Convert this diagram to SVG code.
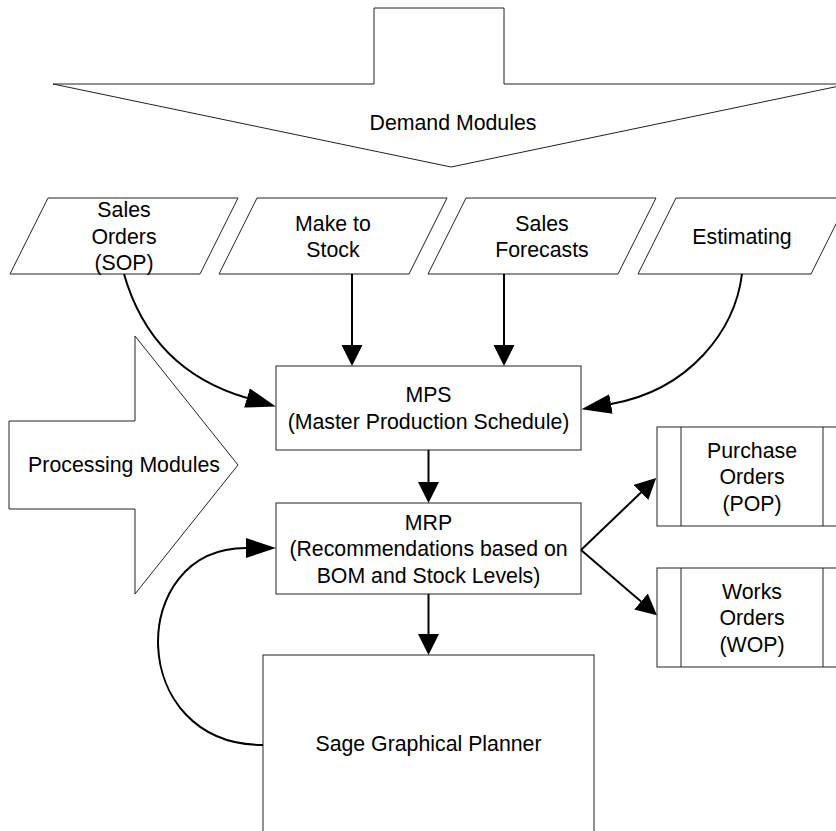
<svg xmlns="http://www.w3.org/2000/svg" width="836" height="831" viewBox="0 0 836 831">
  <style>
    .shape { fill: #ffffff; stroke: #222222; stroke-width: 1; }
    .conn { fill: none; stroke: #000000; stroke-width: 2; }
    .lbl { font-family: "Liberation Sans", Arial, Helvetica, sans-serif; font-size: 21.3px; fill: #000000; text-anchor: middle; }
  </style>
  <defs>
    <marker id="head" markerUnits="userSpaceOnUse" markerWidth="22" markerHeight="22" refX="0" refY="10.5" orient="auto">
      <path d="M0,0 L21,10.5 L0,21 Z" fill="#000000"/>
    </marker>
    <marker id="headLong" markerUnits="userSpaceOnUse" markerWidth="31" markerHeight="21" refX="0" refY="10" orient="auto">
      <path d="M0,0 L30,10 L0,20 Z" fill="#000000"/>
    </marker>
  </defs>
  <rect x="0" y="0" width="836" height="831" fill="#ffffff"/>

  <!-- big block arrows -->
  <g id="demand-modules">
    <path class="shape" d="M53,84 L374,84 L374,8 L504,8 L504,84 L849,84 L451,167 Z"/>
    <text class="lbl" x="453" y="130">Demand Modules</text>
  </g>
  <g id="processing-modules">
    <path class="shape" d="M9,421 L135,421 L135,336 L238,465 L135,594 L135,509 L9,509 Z"/>
    <text class="lbl" x="124" y="472">Processing Modules</text>
  </g>

  <!-- demand inputs -->
  <g id="sales-orders">
    <path class="shape" d="M48,198 L238,198 L200,274 L10,274 Z"/>
    <text class="lbl" x="124" y="217">Sales</text>
    <text class="lbl" x="124" y="243.5">Orders</text>
    <text class="lbl" x="124" y="270">(SOP)</text>
  </g>
  <g id="make-to-stock">
    <path class="shape" d="M257,198 L447,198 L409,274 L219,274 Z"/>
    <text class="lbl" x="333" y="230.5">Make to</text>
    <text class="lbl" x="333" y="257">Stock</text>
  </g>
  <g id="sales-forecasts">
    <path class="shape" d="M466,198 L656,198 L618,274 L428,274 Z"/>
    <text class="lbl" x="542" y="230.5">Sales</text>
    <text class="lbl" x="542" y="257">Forecasts</text>
  </g>
  <g id="estimating">
    <path class="shape" d="M676,198 L849,198 L811,274 L638,274 Z"/>
    <text class="lbl" x="742" y="243.5">Estimating</text>
  </g>

  <!-- processing -->
  <g id="mps">
    <rect class="shape" x="276" y="366" width="305" height="84"/>
    <text class="lbl" x="428.5" y="402">MPS</text>
    <text class="lbl" x="428.5" y="428.5">(Master Production Schedule)</text>
  </g>
  <g id="mrp">
    <rect class="shape" x="276" y="503" width="305" height="91"/>
    <text class="lbl" x="428.5" y="529.5">MRP</text>
    <text class="lbl" x="428.5" y="556">(Recommendations based on</text>
    <text class="lbl" x="428.5" y="582.5">BOM and Stock Levels)</text>
  </g>
  <g id="graphical-planner">
    <rect class="shape" x="263" y="655" width="331" height="200"/>
    <text class="lbl" x="428.5" y="751">Sage Graphical Planner</text>
  </g>

  <!-- outputs (predefined process boxes) -->
  <g id="purchase-orders">
    <rect class="shape" x="657" y="427" width="200" height="99"/>
    <line class="shape" x1="681" y1="427" x2="681" y2="526"/>
    <line class="shape" x1="823" y1="427" x2="823" y2="526"/>
    <text class="lbl" x="752" y="457.5">Purchase</text>
    <text class="lbl" x="752" y="484">Orders</text>
    <text class="lbl" x="752" y="510.5">(POP)</text>
  </g>
  <g id="works-orders">
    <rect class="shape" x="657" y="568" width="200" height="99"/>
    <line class="shape" x1="681" y1="568" x2="681" y2="667"/>
    <line class="shape" x1="823" y1="568" x2="823" y2="667"/>
    <text class="lbl" x="752" y="598.5">Works</text>
    <text class="lbl" x="752" y="625">Orders</text>
    <text class="lbl" x="752" y="651.5">(WOP)</text>
  </g>

  <!-- connectors -->
  <g id="connectors">
    <path class="conn" d="M124,274 C140,330 175,377 247,398" marker-end="url(#headLong)"/>
    <path class="conn" d="M352,274 L352,345" marker-end="url(#head)"/>
    <path class="conn" d="M504,274 L504,345" marker-end="url(#head)"/>
    <path class="conn" d="M742,274 C735,330 690,390 611,404" marker-end="url(#headLong)"/>
    <path class="conn" d="M428.5,450 L428.5,482" marker-end="url(#head)"/>
    <path class="conn" d="M428.5,594 L428.5,634" marker-end="url(#head)"/>
    <path class="conn" d="M581,550 L641,492.5" marker-end="url(#head)"/>
    <path class="conn" d="M581,550 L641,601.5" marker-end="url(#head)"/>
    <path class="conn" d="M263,745 C126,745 126,548 246,548" marker-end="url(#headLong)"/>
  </g>
</svg>
